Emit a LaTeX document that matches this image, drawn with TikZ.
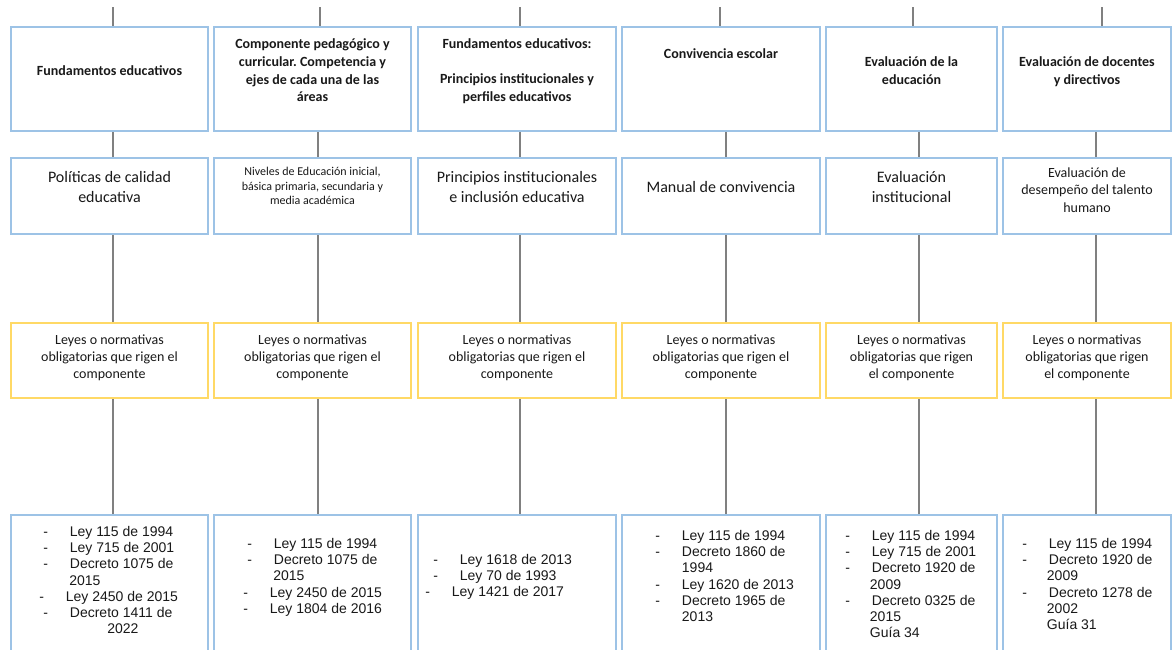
\documentclass[tikz,border=0pt]{standalone}
\usepackage{fontspec}
\setmainfont{Carlito}
\newfontfamily\arialfont{Liberation Sans}
\usetikzlibrary{calc}
\frenchspacing

\definecolor{boxblue}{RGB}{157,195,230}
\definecolor{boxyellow}{RGB}{255,217,102}
\definecolor{linkgray}{RGB}{128,128,128}
\newcommand{\lift}[1]{\rule[-#1]{0pt}{#1}}
\newcommand{\itm}[1]{\makebox[20pt][l]{-}#1}

\begin{document}
\begin{tikzpicture}[x=0.75pt,y=-0.75pt,
  box/.style={draw=boxblue, line width=1.5pt, fill=white, align=center, inner sep=2pt, text=black!90},
  topbox/.style={box, minimum height=78pt, font=\bfseries\fontsize{10.5}{13.2}\selectfont},
  midbox/.style={box, minimum height=57pt, font=\fontsize{12}{15}\selectfont},
  normbox/.style={box, draw=boxyellow, minimum height=56.25pt, font=\fontsize{10.5}{12.75}\selectfont},
  lawbox/.style={box, minimum height=138.75pt},
  lawlist/.style={anchor=north west, inner sep=0pt, align=left, text=black!90, font=\arialfont\fontsize{10.5}{12.15}\selectfont},
  link/.style={draw=linkgray, line width=1.5pt}]
\clip (0,0) rectangle (1172,650);

% spines of the six columns
\coordinate (x1) at (113,0);
\coordinate (x2) at (318,0);
\coordinate (x3) at (520,0);
\coordinate (x4) at (726,0);
\coordinate (x5) at (919,0);
\coordinate (x6) at (1096,0);
\coordinate (top1) at (113,7);
\coordinate (top2) at (320,7);
\coordinate (top3) at (520,7);
\coordinate (top4) at (720,7);
\coordinate (top5) at (913,7);
\coordinate (top6) at (1102,7);

% components
\node[topbox, minimum width=147.75pt] (t1) at (109.5,79) {Fundamentos educativos\lift{13pt}};
\node[topbox, minimum width=147.75pt] (t2) at (312.5,79) {Componente pedagógico y\\curricular. Competencia y\\ejes de cada una de las\\áreas\lift{13pt}};
\node[topbox, minimum width=148.5pt] (t3) at (517,79) {Fundamentos educativos:\\[13pt]Principios institucionales y\\perfiles educativos\lift{13pt}};
\node[topbox, minimum width=148.5pt] (t4) at (721,79) {Convivencia escolar\lift{38pt}};
\node[topbox, minimum width=128.25pt] (t5) at (911.5,79) {Evaluación de la\\educación\lift{13pt}};
\node[topbox, minimum width=126pt] (t6) at (1087,79) {Evaluación de docentes\\y directivos\lift{13pt}};

% processes
\node[midbox, minimum width=147.75pt] (m1) at (109.5,196) {Políticas de calidad\\educativa\lift{13.5pt}};
\node[midbox, minimum width=147.75pt, font=\fontsize{9}{11}\selectfont] (m2) at (312.5,196) {Niveles de Educación inicial,\\básica primaria, secundaria y\\media académica\lift{15pt}};
\node[midbox, minimum width=148.5pt] (m3) at (517,196) {Principios institucionales\\e inclusión educativa\lift{13.5pt}};
\node[midbox, minimum width=148.5pt] (m4) at (721,196) {Manual de convivencia\lift{13.5pt}};
\node[midbox, minimum width=128.25pt] (m5) at (911.5,196) {Evaluación\\institucional\lift{13.5pt}};
\node[midbox, minimum width=126pt, font=\fontsize{10.5}{13}\selectfont] (m6) at (1087,196) {Evaluación de\\desempeño del talento\\humano\lift{9pt}};

% norms
\node[normbox, minimum width=147.75pt] (n1) at (109.5,360.5) {Leyes o normativas\\obligatorias que rigen el\\componente\lift{6pt}};
\node[normbox, minimum width=147.75pt] (n2) at (312.5,360.5) {Leyes o normativas\\obligatorias que rigen el\\componente\lift{6pt}};
\node[normbox, minimum width=148.5pt] (n3) at (517,360.5) {Leyes o normativas\\obligatorias que rigen el\\componente\lift{6pt}};
\node[normbox, minimum width=148.5pt] (n4) at (721,360.5) {Leyes o normativas\\obligatorias que rigen el\\componente\lift{6pt}};
\node[normbox, minimum width=128.25pt] (n5) at (911.5,360.5) {Leyes o normativas\\obligatorias que rigen\\el componente\lift{6pt}};
\node[normbox, minimum width=126pt] (n6) at (1087,360.5) {Leyes o normativas\\obligatorias que rigen\\el componente\lift{6pt}};

% laws
\node[lawbox, minimum width=147.75pt] (l1) at (109.5,607.5) {};
\node[lawbox, minimum width=147.75pt] (l2) at (312.5,607.5) {};
\node[lawbox, minimum width=148.5pt] (l3) at (517,607.5) {};
\node[lawbox, minimum width=148.5pt] (l4) at (721,607.5) {};
\node[lawbox, minimum width=128.25pt] (l5) at (911.5,607.5) {};
\node[lawbox, minimum width=126pt] (l6) at (1087,607.5) {};

\node[lawlist] (l1txt) at ($(l1.north west)+(33,12)$) {\itm{Ley 115 de 1994}\\\itm{Ley 715 de 2001}\\\itm{Decreto 1075 de}\\\hspace*{19.5pt}2015\\\hspace*{-3pt}\itm{Ley 2450 de 2015}\\\itm{Decreto 1411 de}\\\hspace*{48pt}2022};
\node[lawlist] (l2txt) at ($(l2.north west)+(34,24)$) {\itm{Ley 115 de 1994}\\\itm{Decreto 1075 de}\\\hspace*{19.5pt}2015\\\hspace*{-3pt}\itm{Ley 2450 de 2015}\\\hspace*{-3pt}\itm{Ley 1804 de 2016}};
\node[lawlist] (l3txt) at ($(l3.north west)+(16,40)$) {\itm{Ley 1618 de 2013}\\\itm{Ley 70 de 1993}\\\hspace*{-6pt}\itm{Ley 1421 de 2017}};
\node[lawlist] (l4txt) at ($(l4.north west)+(34,16)$) {\itm{Ley 115 de 1994}\\\itm{Decreto 1860 de}\\\hspace*{20pt}1994\\\itm{Ley 1620 de 2013}\\\itm{Decreto 1965 de}\\\hspace*{20pt}2013};
\node[lawlist] (l5txt) at ($(l5.north west)+(20,16)$) {\itm{Ley 115 de 1994}\\\itm{Ley 715 de 2001}\\\itm{Decreto 1920 de}\\\hspace*{18.5pt}2009\\\itm{Decreto 0325 de}\\\hspace*{18.5pt}2015\\\hspace*{18.5pt}Guía 34};
\node[lawlist] (l6txt) at ($(l6.north west)+(20,24)$) {\itm{Ley 115 de 1994}\\\itm{Decreto 1920 de}\\\hspace*{18.5pt}2009\\\itm{Decreto 1278 de}\\\hspace*{18.5pt}2002\\\hspace*{18.5pt}Guía 31};

% connectors
\draw[link] (top1) -- (top1 |- t1.north);
\draw[link] (top2) -- (top2 |- t2.north);
\draw[link] (top3) -- (top3 |- t3.north);
\draw[link] (top4) -- (top4 |- t4.north);
\draw[link] (top5) -- (top5 |- t5.north);
\draw[link] (top6) -- (top6 |- t6.north);
\draw[link] (t1.south -| x1) -- (m1.north -| x1);
\draw[link] (t2.south -| x2) -- (m2.north -| x2);
\draw[link] (t3.south -| x3) -- (m3.north -| x3);
\draw[link] (t4.south -| x4) -- (m4.north -| x4);
\draw[link] (t5.south -| x5) -- (m5.north -| x5);
\draw[link] (t6.south -| x6) -- (m6.north -| x6);
\draw[link] (m1.south -| x1) -- (n1.north -| x1);
\draw[link] (m2.south -| x2) -- (n2.north -| x2);
\draw[link] (m3.south -| x3) -- (n3.north -| x3);
\draw[link] (m4.south -| x4) -- (n4.north -| x4);
\draw[link] (m5.south -| x5) -- (n5.north -| x5);
\draw[link] (m6.south -| x6) -- (n6.north -| x6);
\draw[link] (n1.south -| x1) -- (l1.north -| x1);
\draw[link] (n2.south -| x2) -- (l2.north -| x2);
\draw[link] (n3.south -| x3) -- (l3.north -| x3);
\draw[link] (n4.south -| x4) -- (l4.north -| x4);
\draw[link] (n5.south -| x5) -- (l5.north -| x5);
\draw[link] (n6.south -| x6) -- (l6.north -| x6);
\end{tikzpicture}
\end{document}
